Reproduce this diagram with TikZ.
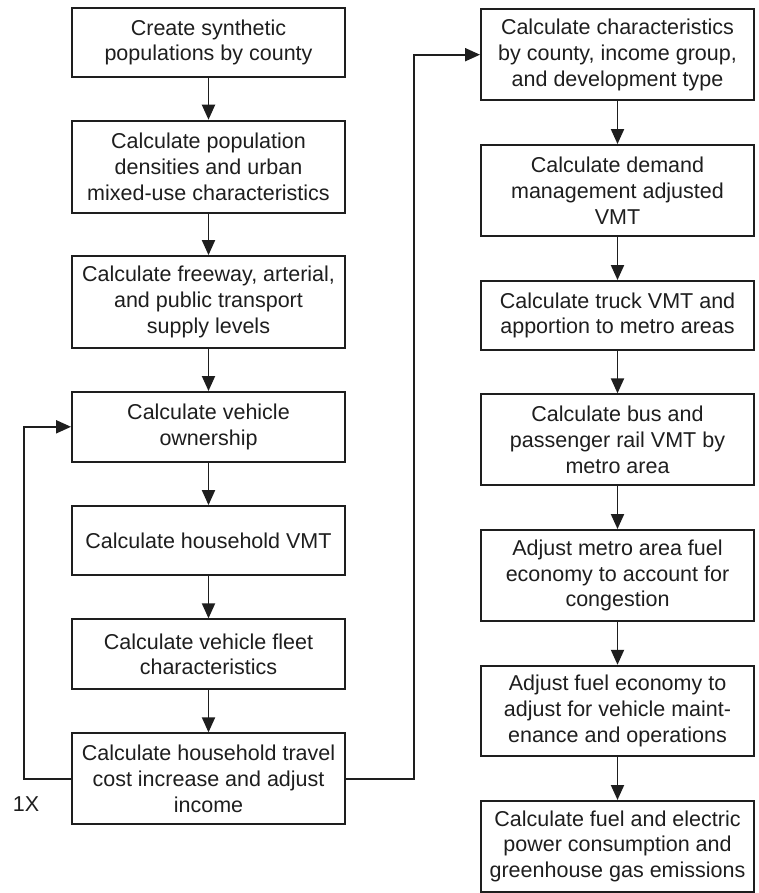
\documentclass[tikz,border=0pt]{standalone}
\usepackage{fontspec}
\setmainfont{Liberation Sans}
\usetikzlibrary{arrows.meta}
\definecolor{ink}{HTML}{1E1E1E}
\tikzset{
  stepbox/.style={draw=ink, line width=1.9pt, text=ink, minimum width=273pt,
    inner sep=0pt, align=center, font=\fontsize{21.5}{25.8}\selectfont},
  flow/.style={draw=ink, line width=1.9pt, -{Triangle[width=13pt,length=15pt]}},
}
\begin{document}
\begin{tikzpicture}[x=1pt,y=1pt]
\useasboundingbox[fill=white] (0,0) rectangle (759,-893);

% left column
\node[stepbox, minimum height=69pt]   (L1) at (208.5,-42.5)  {Create synthetic\\populations by county};
\node[stepbox, minimum height=92pt]   (L2) at (208.5,-166.7) {Calculate population\\densities and urban\\mixed-use characteristics};
\node[stepbox, minimum height=92.3pt] (L3) at (208.5,-302.2) {Calculate freeway, arterial,\\and public transport\\supply levels};
\node[stepbox, minimum height=69.7pt] (L4) at (208.5,-426.8) {Calculate vehicle\\ownership};
\node[stepbox, minimum height=69.3pt] (L5) at (208.5,-540.7) {Calculate household VMT};
\node[stepbox, minimum height=70pt]   (L6) at (208.5,-654.3) {Calculate vehicle fleet\\characteristics};
\node[stepbox, minimum height=91pt]   (L7) at (208.5,-778.8) {Calculate household travel\\cost increase and adjust\\income};

% right column
\node[stepbox, minimum height=90.7pt] (R1) at (617.5,-54.7)  {Calculate characteristics\\by county, income group,\\and development type};
\node[stepbox, minimum height=91pt]   (R2) at (617.5,-190.5) {Calculate demand\\management adjusted\\VMT};
\node[stepbox, minimum height=69pt]   (R3) at (617.5,-315.5) {Calculate truck VMT and\\apportion to metro areas};
\node[stepbox, minimum height=91pt]   (R4) at (617.5,-439.8) {Calculate bus and\\passenger rail VMT by\\metro area};
\node[stepbox, minimum height=91pt]   (R5) at (617.5,-575.5) {Adjust metro area fuel\\economy to account for\\congestion};
\node[stepbox, minimum height=90.3pt] (R6) at (617.5,-710.9) {Adjust fuel economy to\\adjust for vehicle maint-\\enance and operations};
\node[stepbox, minimum height=90.7pt] (R7) at (617.5,-846.3) {Calculate fuel and electric\\power consumption and\\greenhouse gas emissions};

\node[text=ink, font=\fontsize{21.5}{25.8}\selectfont] (once) at (26,-804) {1X};

% sequence arrows
\foreach \a/\b in {L1/L2,L2/L3,L3/L4,L4/L5,L5/L6,L6/L7,R1/R2,R2/R3,R3/R4,R4/R5,R5/R6,R6/R7}
  \draw[flow] (\a.south) -- (\b.north);

% loop back and hand-over to the right column
\draw[flow] (L7.west) -- ++(-47,0) |- (L4.west);
\draw[flow] (L7.east) -- ++(67.7,0) |- (R1.west);
\end{tikzpicture}
\end{document}
